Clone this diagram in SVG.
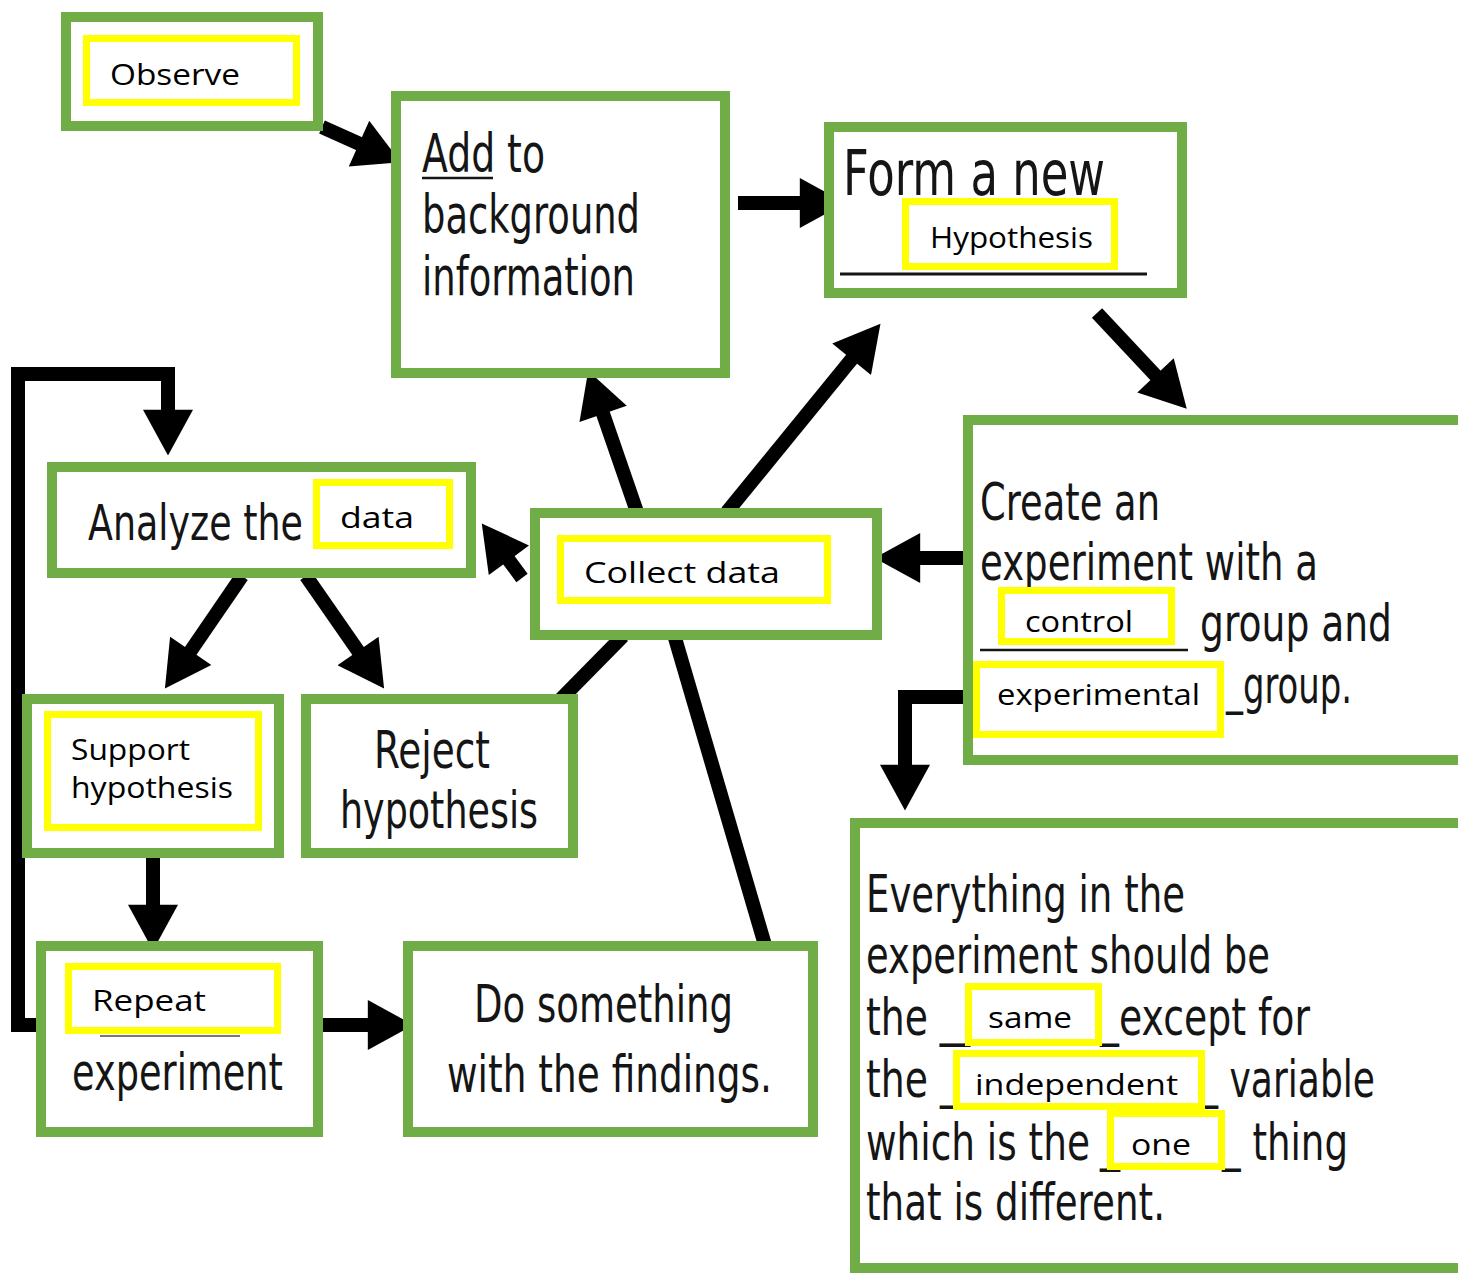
<svg xmlns="http://www.w3.org/2000/svg" width="1458" height="1273" viewBox="0 0 1458 1273">
<defs>
<style>
.g{fill:#fff;stroke:#70AD47;stroke-width:10}
.y{fill:#fff;stroke:#FFFF00;stroke-width:7}
.t{font-family:"DejaVu Sans",sans-serif;fill:#151515}
.l{font-family:"Open Sans","Liberation Sans",sans-serif;fill:#000;font-size:30px}
.c{fill:none;stroke:#000;stroke-width:14}
.a{marker-end:url(#ah)}
</style>
<marker id="ah" markerUnits="userSpaceOnUse" markerWidth="50" markerHeight="50" viewBox="0 0 42 46" refX="2" refY="23" orient="auto">
<path d="M0,0 L42,23 L0,46 Z" fill="#000"/>
</marker>
</defs>

<g id="connectors">
<line class="c a" x1="322" y1="127" x2="361" y2="144.5"/>
<line class="c a" x1="738" y1="203" x2="802" y2="203"/>
<line class="c a" x1="1097" y1="313" x2="1157" y2="377"/>
<line class="c a" x1="966" y1="558" x2="918" y2="558"/>
<path class="c a" d="M966,697 H905 V767"/>
<line class="c a" x1="637" y1="512" x2="602.4" y2="411.9"/>
<line class="c a" x1="727" y1="512" x2="853" y2="357.5"/>
<line class="c a" x1="522" y1="578" x2="507.6" y2="558.5"/>
<line class="c a" x1="242" y1="576" x2="189.5" y2="652.6"/>
<line class="c a" x1="306" y1="576" x2="359.3" y2="652.8"/>
<line class="c a" x1="153" y1="853" x2="153" y2="907"/>
<line class="c a" x1="321" y1="1025" x2="370" y2="1025"/>
<path class="c a" d="M40,1025 H18 V374 H168 V412" stroke-width="12"/>
<line class="c" x1="623" y1="636" x2="560" y2="700"/>
<line class="c" x1="675" y1="638" x2="765" y2="945"/>
</g>

<g id="observe">
<rect class="g" x="66" y="17" width="252" height="109"/>
<rect class="y" x="86.5" y="38.5" width="210" height="64"/>
<text class="l" x="110" y="85" textLength="130" lengthAdjust="spacingAndGlyphs">Observe</text>
</g>

<g id="add">
<rect class="g" x="396" y="96" width="329" height="277"/>
<text class="t" font-size="54" x="422" y="172" textLength="123" lengthAdjust="spacingAndGlyphs">Add to</text>
<line x1="422" y1="178" x2="493" y2="178" stroke="#151515" stroke-width="2.5"/>
<text class="t" font-size="54" x="422" y="233" textLength="218" lengthAdjust="spacingAndGlyphs">background</text>
<text class="t" font-size="54" x="422" y="295" textLength="213" lengthAdjust="spacingAndGlyphs">information</text>
</g>

<g id="form">
<rect class="g" x="829" y="127" width="353" height="166"/>
<text class="t" font-size="62" x="843" y="195" textLength="262" lengthAdjust="spacingAndGlyphs">Form a new</text>
<line x1="840" y1="274" x2="1147" y2="274" stroke="#151515" stroke-width="3"/>
<rect class="y" x="905.5" y="201.5" width="209" height="65"/>
<text class="l" x="930" y="248" textLength="163" lengthAdjust="spacingAndGlyphs">Hypothesis</text>
</g>

<g id="create">
<rect class="g" x="968" y="420" width="600" height="340"/>
<text class="t" font-size="52" x="980" y="520" textLength="180" lengthAdjust="spacingAndGlyphs">Create an</text>
<text class="t" font-size="52" x="980" y="580" textLength="338" lengthAdjust="spacingAndGlyphs">experiment with a</text>
<line x1="980" y1="650" x2="1188" y2="650" stroke="#151515" stroke-width="2.5"/>
<rect class="y" x="1001.5" y="590.5" width="170" height="51"/>
<text class="l" x="1025" y="632" textLength="108" lengthAdjust="spacingAndGlyphs">control</text>
<text class="t" font-size="52" x="1200" y="641" textLength="192" lengthAdjust="spacingAndGlyphs">group and</text>
<text class="t" font-size="52" x="1226" y="703" textLength="126" lengthAdjust="spacingAndGlyphs">_group.</text>
<rect class="y" x="976.5" y="664.5" width="244" height="70"/>
<text class="l" x="997" y="705" textLength="203" lengthAdjust="spacingAndGlyphs">experimental</text>
</g>

<g id="everything">
<rect class="g" x="855" y="823" width="700" height="445"/>
<text class="t" font-size="52" x="866" y="912" textLength="319" lengthAdjust="spacingAndGlyphs">Everything in the</text>
<text class="t" font-size="52" x="866" y="973" textLength="404" lengthAdjust="spacingAndGlyphs">experiment should be</text>
<text class="t" font-size="52" x="866" y="1035" textLength="62" lengthAdjust="spacingAndGlyphs">the</text>
<text class="t" font-size="52" x="940" y="1035" textLength="30" lengthAdjust="spacingAndGlyphs">_</text>
<text class="t" font-size="52" x="1100" y="1035" textLength="210" lengthAdjust="spacingAndGlyphs">_except for</text>
<text class="t" font-size="52" x="866" y="1097" textLength="62" lengthAdjust="spacingAndGlyphs">the</text>
<text class="t" font-size="52" x="940" y="1097" textLength="20" lengthAdjust="spacingAndGlyphs">_</text>
<text class="t" font-size="52" x="1200" y="1097" textLength="175" lengthAdjust="spacingAndGlyphs">_ variable</text>
<text class="t" font-size="52" x="866" y="1160" textLength="224" lengthAdjust="spacingAndGlyphs">which is the</text>
<text class="t" font-size="52" x="1100" y="1160" textLength="20" lengthAdjust="spacingAndGlyphs">_</text>
<text class="t" font-size="52" x="1222" y="1160" textLength="126" lengthAdjust="spacingAndGlyphs">_ thing</text>
<text class="t" font-size="52" x="866" y="1220" textLength="299" lengthAdjust="spacingAndGlyphs">that is different.</text>
<rect class="y" x="968.5" y="986.5" width="130" height="56"/>
<text class="l" x="988" y="1028" textLength="84" lengthAdjust="spacingAndGlyphs">same</text>
<rect class="y" x="956.5" y="1053.5" width="245" height="53"/>
<text class="l" x="975" y="1095" textLength="203" lengthAdjust="spacingAndGlyphs">independent</text>
<rect class="y" x="1110.5" y="1113.5" width="111" height="53"/>
<text class="l" x="1131" y="1155" textLength="60" lengthAdjust="spacingAndGlyphs">one</text>
</g>

<g id="collect">
<rect class="g" x="535" y="513" width="342" height="122"/>
<rect class="y" x="560.5" y="538.5" width="267" height="62"/>
<text class="l" x="584" y="583" textLength="196" lengthAdjust="spacingAndGlyphs">Collect data</text>
</g>

<g id="analyze">
<rect class="g" x="52" y="467" width="419" height="106"/>
<text class="t" font-size="50" x="88" y="540" textLength="215" lengthAdjust="spacingAndGlyphs">Analyze the</text>
<rect class="y" x="316.5" y="482.5" width="133" height="63"/>
<text class="l" x="340" y="528" textLength="74" lengthAdjust="spacingAndGlyphs">data</text>
</g>

<g id="support">
<rect class="g" x="27" y="699" width="252" height="154"/>
<rect class="y" x="47.5" y="714.5" width="211" height="113"/>
<text class="l" x="71" y="760" textLength="119" lengthAdjust="spacingAndGlyphs">Support</text>
<text class="l" x="71" y="798" textLength="162" lengthAdjust="spacingAndGlyphs">hypothesis</text>
</g>

<g id="reject">
<rect class="g" x="306" y="699" width="267" height="154"/>
<text class="t" font-size="52" x="374" y="768" textLength="116" lengthAdjust="spacingAndGlyphs">Reject</text>
<text class="t" font-size="52" x="340" y="828" textLength="198" lengthAdjust="spacingAndGlyphs">hypothesis</text>
</g>

<g id="repeat">
<rect class="g" x="41" y="946" width="277" height="186"/>
<line x1="100" y1="1036" x2="240" y2="1036" stroke="#777" stroke-width="2"/>
<rect class="y" x="68.5" y="966.5" width="209" height="64"/>
<text class="l" x="92" y="1011" textLength="114" lengthAdjust="spacingAndGlyphs">Repeat</text>
<text class="t" font-size="52" x="72" y="1090" textLength="211" lengthAdjust="spacingAndGlyphs">experiment</text>
</g>

<g id="do">
<rect class="g" x="408" y="946" width="405" height="186"/>
<text class="t" font-size="52" x="474" y="1022" textLength="259" lengthAdjust="spacingAndGlyphs">Do something</text>
<text class="t" font-size="52" x="447" y="1092" textLength="325" lengthAdjust="spacingAndGlyphs">with the findings.</text>
</g>
</svg>
